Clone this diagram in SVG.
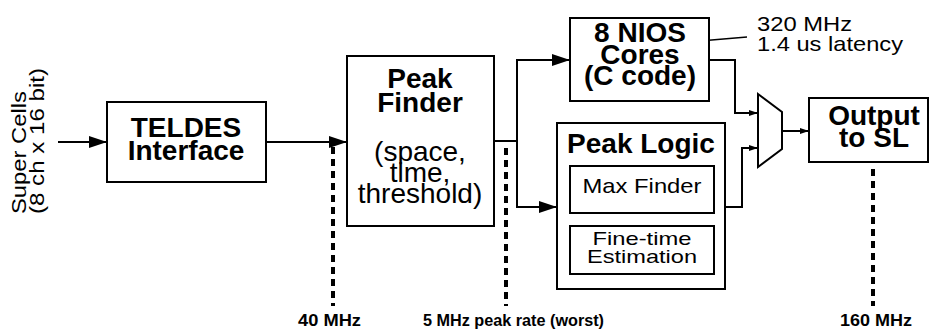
<svg xmlns="http://www.w3.org/2000/svg" width="930" height="329" viewBox="0 0 930 329">
<style>
.box{fill:#fff;stroke:#000;stroke-width:2}
.ln{fill:none;stroke:#000;stroke-width:2}
.sl{fill:none;stroke:#000;stroke-width:1.6}
.dash{fill:none;stroke:#000;stroke-width:4;stroke-dasharray:7 5}
.b{font-family:"Liberation Sans",Arial,sans-serif;font-weight:bold;font-size:28px;text-anchor:middle;fill:#000}
.r{font-family:"Liberation Sans",Arial,sans-serif;font-size:28px;text-anchor:middle;fill:#000}
.s{font-family:"Liberation Sans",Arial,sans-serif;font-size:21px;fill:#000}
.lb{font-family:"Liberation Sans",Arial,sans-serif;font-weight:bold;font-size:17px;fill:#000}
</style>
<defs>
<marker id="ah" markerUnits="userSpaceOnUse" markerWidth="20" markerHeight="14" refX="18" refY="6" orient="auto"><path d="M0,0 L18,6 L0,12 z" fill="#000"/></marker>
<marker id="as" markerUnits="userSpaceOnUse" markerWidth="12" markerHeight="8" refX="9" refY="3" orient="auto"><path d="M0,0 L9,3 L0,6 z" fill="#000"/></marker>
</defs>

<g id="connectors">
<path class="ln" d="M58,142 H107" marker-end="url(#ah)"/>
<path class="ln" d="M266,142 H347" marker-end="url(#ah)"/>
<path class="ln" d="M494,141 H517"/>
<path class="ln" d="M517,141 V60 H570" marker-end="url(#ah)"/>
<path class="ln" d="M517,141 V207 H557" marker-end="url(#ah)"/>
<path class="ln" d="M709,60 H735 V113 H758" marker-end="url(#as)"/>
<path class="ln" d="M725,207 H742 V148 H758" marker-end="url(#as)"/>
<path class="ln" d="M782,131 H809" marker-end="url(#as)"/>
<path class="sl" d="M688,42 L747,37"/>
<path class="dash" d="M333,147 V306"/>
<path class="dash" d="M506,148 V306"/>
<path class="dash" d="M873,169 V306"/>
</g>

<g id="supercells">
<text class="s" transform="translate(26,214) rotate(-90)" textLength="123" lengthAdjust="spacingAndGlyphs">Super Cells</text>
<text class="s" transform="translate(44,214) rotate(-90)" textLength="146" lengthAdjust="spacingAndGlyphs">(8 ch x 16 bit)</text>
</g>

<g id="teldes">
<rect class="box" x="107" y="102" width="159" height="80"/>
<text class="b" x="186" y="137">TELDES</text>
<text class="b" x="186" y="160">Interface</text>
</g>

<g id="peakfinder">
<rect class="box" x="347" y="56" width="147" height="170"/>
<text class="b" x="420" y="88">Peak</text>
<text class="b" x="420" y="112">Finder</text>
<text class="r" x="420" y="161">(space,</text>
<text class="r" x="420" y="182">time,</text>
<text class="r" x="420" y="203">threshold)</text>
</g>

<g id="nios">
<rect class="box" x="570" y="18" width="139" height="83"/>
<text class="b" x="640" y="42">8 NIOS</text>
<text class="b" x="640" y="64">Cores</text>
<text class="b" x="640" y="85">(C code)</text>
</g>

<g id="nios-note">
<text class="s" x="757" y="31" textLength="95" lengthAdjust="spacingAndGlyphs">320 MHz</text>
<text class="s" x="757" y="51" textLength="146" lengthAdjust="spacingAndGlyphs">1.4 us latency</text>
</g>

<g id="peaklogic">
<rect class="box" x="557" y="123" width="168" height="166"/>
<text class="b" x="641" y="153">Peak Logic</text>
<g id="maxfinder">
<rect class="box" x="570" y="166" width="144" height="47"/>
<text class="s" x="642" y="193" text-anchor="middle" textLength="119" lengthAdjust="spacingAndGlyphs">Max Finder</text>
</g>
<g id="finetime">
<rect class="box" x="570" y="226" width="144" height="48"/>
<text class="s" x="642" y="245" text-anchor="middle" style="font-size:19px" textLength="99" lengthAdjust="spacingAndGlyphs">Fine-time</text>
<text class="s" x="642" y="263" text-anchor="middle" style="font-size:19px" textLength="110" lengthAdjust="spacingAndGlyphs">Estimation</text>
</g>
</g>

<g id="mux">
<polygon class="box" points="758,94 782,112 782,149 758,167"/>
</g>

<g id="output">
<rect class="box" x="809" y="98" width="119" height="64"/>
<text class="b" x="874" y="125">Output</text>
<text class="b" x="874" y="147">to SL</text>
</g>

<g id="labels">
<text class="lb" x="298" y="326" textLength="63" lengthAdjust="spacingAndGlyphs">40 MHz</text>
<text class="lb" x="423" y="326" textLength="181" lengthAdjust="spacingAndGlyphs">5 MHz peak rate (worst)</text>
<text class="lb" x="840" y="326" textLength="72" lengthAdjust="spacingAndGlyphs">160 MHz</text>
</g>
</svg>
